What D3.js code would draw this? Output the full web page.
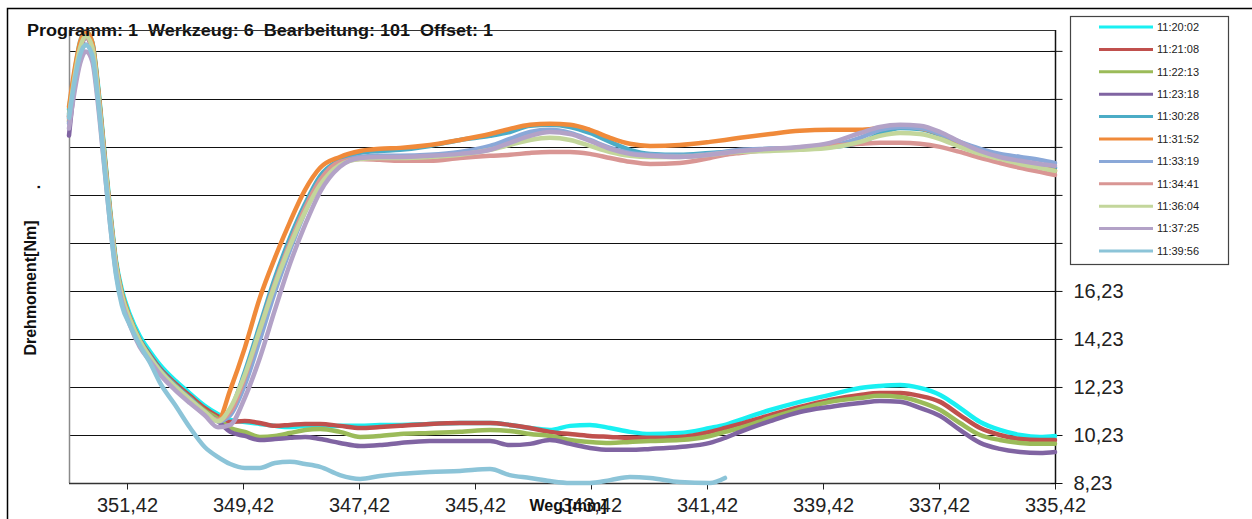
<!DOCTYPE html>
<html>
<head>
<meta charset="utf-8">
<script src="https://cdn.jsdelivr.net/npm/d3@7"></script>
<style>
  html, body { margin: 0; padding: 0; background: #fff; }
  svg { display: block; font-family: "Liberation Sans", Arial, sans-serif; }
</style>
</head>
<body>
<svg id="chart" width="1252" height="519"></svg>
<script>
// Weg [mm] sample positions (shared by all runs)
const weg = [352.42, 352.32, 352.23, 352.13, 352.02, 351.92, 351.82, 351.71, 351.61, 351.51,
  351.37, 351.20, 351.02, 350.85, 350.59, 350.33, 350.08, 349.85, 349.64, 349.39,
  349.13, 348.87, 348.61, 348.35, 348.09, 347.75, 347.40, 347.06, 346.71, 346.20,
  345.68, 345.16, 344.82, 344.47, 344.13, 343.78, 343.44, 343.09, 342.75, 342.40,
  341.89, 341.37, 341.11, 340.85, 340.33, 339.82, 339.30, 338.78, 338.44, 338.09,
  337.75, 337.40, 337.06, 336.71, 336.37, 336.02, 335.68, 335.42];

// Drehmoment [Nm] per run
const t112002 = [23.8, 25.4, 26.6, 27.05, 26.6, 24.8, 22.3, 19.6, 17.5, 16.3, 15.25, 14.35, 13.7, 13.15, 12.5, 11.95, 11.45, 11.1,
  10.86, 10.77, 10.69, 10.61, 10.56, 10.61, 10.56, 10.61, 10.61, 10.65, 10.65, 10.69, 10.73, 10.73, 10.65, 10.52, 10.44, 10.61,
  10.65, 10.52, 10.36, 10.27, 10.31, 10.52, 10.65, 10.86, 11.27, 11.61, 11.90, 12.19, 12.27, 12.31, 12.19, 11.90, 11.36, 10.77,
  10.44, 10.23, 10.15, 10.19];
const t112108 = [23.5, 25.2, 26.45, 26.95, 26.5, 24.6, 22.1, 19.4, 17.35, 16.1, 15.1, 14.2, 13.55, 13.0, 12.38, 11.85, 11.35, 11.0,
  10.77, 10.81, 10.73, 10.61, 10.65, 10.69, 10.69, 10.61, 10.52, 10.56, 10.61, 10.69, 10.73, 10.73, 10.65, 10.52, 10.36, 10.27,
  10.19, 10.15, 10.11, 10.11, 10.15, 10.36, 10.52, 10.69, 11.06, 11.40, 11.69, 11.90, 11.98, 11.98, 11.86, 11.61, 11.06, 10.52,
  10.23, 10.06, 10.02, 10.02];
const t112213 = [23.3, 25.1, 26.35, 26.9, 26.4, 24.5, 22.0, 19.3, 17.25, 16.0, 15.0, 14.1, 13.45, 12.9, 12.3, 11.75, 11.25, 10.9,
  10.52, 10.36, 10.15, 10.19, 10.31, 10.44, 10.48, 10.36, 10.15, 10.19, 10.27, 10.31, 10.36, 10.44, 10.40, 10.27, 10.19, 10.02,
  9.94, 9.90, 9.94, 9.98, 10.02, 10.19, 10.36, 10.52, 10.94, 11.31, 11.61, 11.77, 11.86, 11.81, 11.61, 11.27, 10.73, 10.23,
  10.02, 9.90, 9.86, 9.86];
const t112318 = [22.7, 24.9, 26.2, 26.8, 26.3, 24.4, 21.9, 19.2, 17.15, 15.9, 14.9, 14.0, 13.35, 12.8, 12.2, 11.65, 11.15, 10.8,
  10.36, 10.19, 10.02, 10.06, 10.11, 10.15, 10.06, 9.90, 9.77, 9.81, 9.90, 9.98, 9.98, 9.98, 9.81, 9.86, 10.02, 9.86,
  9.69, 9.61, 9.61, 9.65, 9.73, 9.90, 10.11, 10.36, 10.81, 11.19, 11.40, 11.56, 11.65, 11.61, 11.36, 11.02, 10.44, 9.90,
  9.65, 9.52, 9.48, 9.52];
const t113028 = [23.6, 25.3, 26.5, 27.0, 26.55, 24.65, 22.15, 19.45, 17.4, 16.15, 15.1, 14.2, 13.5, 12.95, 12.3, 11.75, 11.2, 10.85,
  11.27, 12.85, 14.81, 16.77, 18.44, 19.86, 21.02, 21.69, 21.98, 22.06, 22.11, 22.27, 22.52, 22.69, 22.85, 23.11, 23.15, 23.06,
  22.81, 22.44, 22.11, 21.94, 21.90, 21.98, 22.02, 22.06, 22.15, 22.19, 22.23, 22.40, 22.77, 23.02, 22.98, 22.73, 22.36, 22.02,
  21.81, 21.65, 21.48, 21.36];
const t113152 = [23.9, 25.5, 26.6, 27.05, 26.6, 24.7, 22.2, 19.5, 17.4, 16.15, 15.1, 14.15, 13.45, 12.85, 12.2, 11.6, 11.1, 10.85,
  12.11, 13.85, 15.94, 17.61, 19.11, 20.44, 21.36, 21.81, 22.06, 22.15, 22.19, 22.31, 22.52, 22.77, 22.98, 23.15, 23.19, 23.15,
  22.94, 22.61, 22.36, 22.27, 22.31, 22.44, 22.52, 22.61, 22.77, 22.90, 22.94, 22.94, 23.02, 23.11, 23.02, 22.77, 22.40, 22.06,
  21.81, 21.61, 21.40, 21.23];
const t113319 = [23.2, 24.9, 26.0, 26.5, 26.1, 24.3, 21.9, 19.2, 17.2, 15.95, 14.95, 14.05, 13.4, 12.85, 12.2, 11.65, 11.15, 10.8,
  11.06, 12.31, 14.19, 16.19, 17.94, 19.52, 20.77, 21.56, 21.81, 21.86, 21.86, 21.90, 22.02, 22.27, 22.56, 22.85, 22.94, 22.81,
  22.52, 22.19, 21.98, 21.90, 21.86, 21.94, 22.02, 22.11, 22.15, 22.19, 22.27, 22.61, 22.94, 23.06, 23.02, 22.77, 22.44, 22.15,
  21.94, 21.81, 21.69, 21.56];
const t113441 = [23.4, 25.1, 26.3, 26.8, 26.35, 24.45, 21.95, 19.3, 17.25, 16.0, 15.0, 14.1, 13.45, 12.9, 12.25, 11.7, 11.2, 10.85,
  11.19, 12.61, 14.61, 16.56, 18.23, 19.69, 20.86, 21.61, 21.73, 21.69, 21.65, 21.65, 21.77, 21.86, 21.90, 21.98, 22.02, 22.02,
  21.94, 21.77, 21.61, 21.52, 21.56, 21.77, 21.90, 21.98, 22.11, 22.19, 22.27, 22.36, 22.40, 22.40, 22.36, 22.23, 22.02, 21.77,
  21.56, 21.36, 21.19, 21.06];
const t113604 = [23.5, 25.2, 26.35, 26.85, 26.4, 24.5, 22.0, 19.35, 17.3, 16.05, 15.05, 14.15, 13.45, 12.9, 12.25, 11.7, 11.2, 10.8,
  11.36, 12.73, 14.61, 16.48, 18.11, 19.52, 20.65, 21.48, 21.73, 21.77, 21.77, 21.81, 21.90, 22.11, 22.31, 22.52, 22.61, 22.52,
  22.27, 22.02, 21.86, 21.81, 21.81, 21.90, 21.98, 22.02, 22.06, 22.11, 22.19, 22.44, 22.69, 22.81, 22.77, 22.56, 22.23, 21.94,
  21.73, 21.52, 21.36, 21.23];
const t113725 = [23.0, 24.6, 25.7, 26.2, 25.8, 24.0, 21.6, 19.0, 17.0, 15.8, 14.8, 13.9, 13.3, 12.75, 12.1, 11.55, 11.05, 10.55,
  10.65, 11.77, 13.44, 15.44, 17.36, 18.98, 20.36, 21.40, 21.77, 21.81, 21.81, 21.86, 21.94, 22.11, 22.40, 22.69, 22.85, 22.77,
  22.48, 22.15, 21.94, 21.86, 21.81, 21.90, 21.98, 22.06, 22.15, 22.23, 22.40, 22.81, 23.06, 23.15, 23.11, 22.85, 22.44, 22.06,
  21.81, 21.65, 21.52, 21.44];
// last run stops early (ends at 341.11 mm)
const t113956 = [23.44, 25.02, 26.06, 26.48, 26.06, 24.19, 21.69, 18.98, 16.90, 15.65, 14.81, 13.98, 13.23, 12.40, 11.48, 10.52,
  9.73, 9.31, 9.02, 8.86, 8.86, 9.06, 9.11, 9.02, 8.90, 8.56, 8.40, 8.52, 8.61, 8.69, 8.73, 8.81, 8.56, 8.44, 8.31, 8.23,
  8.23, 8.35, 8.48, 8.44, 8.27, 8.23, 8.44];

const zeiten = ["11:20:02", "11:21:08", "11:22:13", "11:23:18", "11:30:28", "11:31:52",
  "11:33:19", "11:34:41", "11:36:04", "11:37:25", "11:39:56"];
const werte = [t112002, t112108, t112213, t112318, t113028, t113152,
  t113319, t113441, t113604, t113725, t113956];
const farben = ["#19f0f2", "#c0504d", "#9bbb59", "#8064a2", "#4bacc6", "#f08a3a",
  "#8aa8d8", "#d99694", "#c3d69b", "#b3a2c7", "#8cc4d8"];

const xTicks = [351.42, 349.42, 347.42, 345.42, 343.42, 341.42, 339.42, 337.42, 335.42];
const yTicks = [8.23, 10.23, 12.23, 14.23, 16.23, 18.23, 20.23, 22.23, 24.23, 26.23];
const xDomain = [352.42, 335.42];
const yDomain = [8.23, 27.1];

// double spaces between the parts, kept as non-breaking spaces
const titel = "Programm: 1\u00a0\u00a0Werkzeug: 6\u00a0\u00a0Bearbeitung: 101\u00a0\u00a0Offset: 1";

const svg = d3.select("#chart");
const plot = { left: 69, right: 1055, top: 30, bottom: 483 };

const x = d3.scaleLinear().domain(xDomain).range([plot.left, plot.right]);
const y = d3.scaleLinear().domain(yDomain).range([plot.bottom, plot.top]);

const komma = v => v.toFixed(2).replace(".", ",");

// chart frame
svg.append("rect").attr("x", 7.5).attr("y", 8.5).attr("width", 1300).attr("height", 600)
  .attr("fill", "#fff").attr("stroke", "#000").attr("stroke-width", 1.5);

// horizontal gridlines
svg.append("g").selectAll("line").data(yTicks.slice(1)).join("line")
  .attr("x1", plot.left).attr("x2", plot.right)
  .attr("y1", d => Math.round(y(d)) + 0.5).attr("y2", d => Math.round(y(d)) + 0.5)
  .attr("stroke", "#111").attr("stroke-width", 1);

// left border (grey)
svg.append("line").attr("x1", plot.left + 0.5).attr("x2", plot.left + 0.5)
  .attr("y1", plot.top).attr("y2", plot.bottom).attr("stroke", "#8a8a8a").attr("stroke-width", 1.5);

// x axis
const xAxis = d3.axisBottom(x).tickValues(xTicks).tickFormat(komma).tickSize(6).tickPadding(8);
const gx = svg.append("g").attr("transform", `translate(0,${plot.bottom + 0.5})`).call(xAxis);
gx.select(".domain").attr("stroke", "#333").attr("stroke-width", 1.5).attr("d", `M${plot.left},0H${plot.right}`);
gx.selectAll(".tick line").attr("stroke", "#222");
gx.selectAll(".tick text").attr("font-size", 20).attr("fill", "#222")
  .attr("font-family", "Liberation Sans, Arial, sans-serif");

// y axis on the right
const yAxis = d3.axisRight(y).tickValues(yTicks).tickFormat(komma).tickSize(7).tickPadding(11);
const gy = svg.append("g").attr("transform", `translate(${plot.right + 0.5},0)`).call(yAxis);
gy.select(".domain").attr("stroke", "#111").attr("stroke-width", 1.5).attr("d", `M0,${plot.top}V${plot.bottom}`);
gy.selectAll(".tick line").attr("stroke", "#111").attr("x1", -5);
gy.selectAll(".tick text").attr("font-size", 20).attr("fill", "#222")
  .attr("font-family", "Liberation Sans, Arial, sans-serif");

// lines
const linie = d3.line()
  .defined(d => d[1] != null)
  .x(d => x(d[0])).y(d => y(d[1]))
  .curve(d3.curveMonotoneX);

svg.append("g").selectAll("path").data(werte).join("path")
  .attr("d", w => linie(w.map((v, i) => [weg[i], v])))
  .attr("fill", "none")
  .attr("stroke", (w, i) => farben[i])
  .attr("stroke-width", 4.5)
  .attr("stroke-linejoin", "round")
  .attr("stroke-linecap", "round");

// title
svg.append("text").attr("x", 27).attr("y", 36)
  .attr("font-size", 16).attr("font-weight", "bold").attr("fill", "#111")
  .attr("textLength", 466).attr("lengthAdjust", "spacingAndGlyphs")
  .text(titel);

// plot top border, drawn across the title
svg.append("line").attr("x1", plot.left).attr("x2", plot.right)
  .attr("y1", plot.top + 0.5).attr("y2", plot.top + 0.5).attr("stroke", "#333");

// axis titles
svg.append("text")
  .attr("transform", "translate(36,288) rotate(-90)")
  .attr("text-anchor", "middle")
  .attr("font-size", 16).attr("font-weight", "bold").attr("fill", "#111")
  .text("Drehmoment[Nm]");
svg.append("text")
  .attr("transform", "translate(40,187) rotate(-90)")
  .attr("text-anchor", "middle")
  .attr("font-size", 16).attr("font-weight", "bold").attr("fill", "#111")
  .text(".");
svg.append("text").attr("x", 568).attr("y", 511)
  .attr("text-anchor", "middle")
  .attr("font-size", 16).attr("font-weight", "bold").attr("fill", "#111")
  .text("Weg [mm]");

// legend
const lg = svg.append("g");
lg.append("rect").attr("x", 1070.5).attr("y", 16.5).attr("width", 158).attr("height", 248)
  .attr("fill", "#fff").attr("stroke", "#444").attr("stroke-width", 1.2);
const eintrag = lg.selectAll("g.e").data(zeiten).join("g").attr("class", "e")
  .attr("transform", (d, i) => `translate(0,${27 + i * 22.4})`);
eintrag.append("line").attr("x1", 1099).attr("x2", 1153)
  .attr("stroke", (d, i) => farben[i]).attr("stroke-width", 3);
eintrag.append("text").attr("x", 1157).attr("y", 0).attr("dy", "0.35em")
  .attr("font-size", 11).attr("fill", "#222").text(d => d);
</script>
</body>
</html>
